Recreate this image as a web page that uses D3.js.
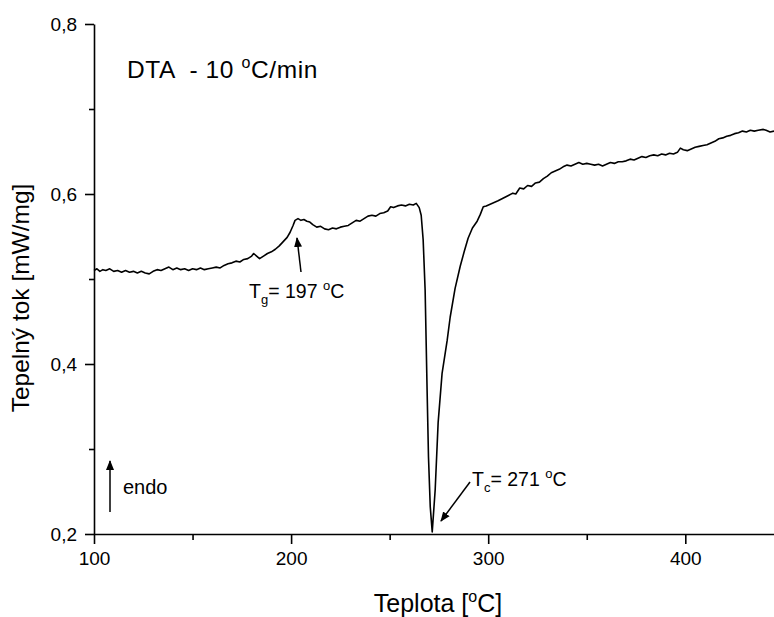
<!DOCTYPE html>
<html>
<head>
<meta charset="utf-8">
<script src="https://cdn.jsdelivr.net/npm/d3@7/dist/d3.min.js"></script>
<style>
  body { margin: 0; background: #fff; }
  text { font-family: "Liberation Sans", Arial, sans-serif; fill: #000; }
</style>
</head>
<body>
<svg id="chart" width="774" height="617"></svg>
<script>
// DTA curve (temperature in °C, heat flow in mW/mg)
const temp = [100, 101.5, 103, 104.5, 106, 108, 110, 112, 114, 116, 118, 120, 122, 124, 126, 128, 130, 132, 134, 136,
  138, 140, 142, 144, 146, 148, 150, 152, 154, 156, 158, 160, 162, 164, 166, 168, 170, 172, 174, 176,
  178, 180, 181, 182.5, 184, 186, 188, 190, 192, 194, 196, 198, 199.5, 201, 202, 203.5, 205, 206.5, 208, 209.5,
  211, 213, 215, 217, 219, 221, 223, 225, 227, 229, 231, 233, 235, 237, 239, 241, 243, 245, 247, 249,
  250.5, 252, 254, 256, 258, 260, 262, 263.5, 265, 266, 267, 268, 269, 269.7, 270.6, 271.6, 273.1, 274.6, 276.6, 279.2,
  280.7, 283.2, 285.8, 287.8, 289.8, 292, 294.4, 296, 297.5, 299, 301, 303, 305, 307.5, 310, 312.5, 314, 316, 318, 320,
  322, 324, 326, 328, 330, 332, 334, 336, 338, 340, 342, 344, 346, 348, 350, 352, 354, 356, 358, 360,
  362, 364, 366, 368, 370, 372, 374, 376, 378, 380, 382, 384, 386, 388, 390, 392, 394, 396, 397.5, 399,
  401, 403, 405, 407, 409, 411, 413, 415, 417, 419, 421, 423, 425, 427, 429, 431, 433, 435, 437, 439.6,
  441, 443, 445];
const flow = [.510, .512, .509, .511, .510, .512, .509, .510, .508, .510, .508, .509, .507, .509, .507, .506, .509, .511, .510, .512,
  .514, .511, .513, .511, .512, .510, .512, .511, .513, .511, .512, .513, .514, .513, .516, .518, .519, .521, .520, .523,
  .524, .527, .530, .527, .524, .527, .530, .532, .535, .539, .544, .549, .555, .563, .569, .571, .569, .570, .568, .567,
  .564, .561, .562, .559, .558, .560, .559, .561, .562, .563, .566, .569, .568, .571, .574, .575, .574, .577, .578, .580,
  .585, .584, .586, .587, .586, .588, .587, .589, .584, .575, .546, .487, .369, .291, .232, .2025, .252, .331, .389, .428,
  .455, .489, .515, .532, .548, .560, .568, .576, .585, .586, .588, .590, .592, .595, .598, .601, .600, .607, .606, .610,
  .609, .613, .614, .618, .621, .625, .627, .629, .632, .634, .633, .635, .637, .635, .636, .635, .634, .635, .633, .635,
  .637, .636, .638, .638, .639, .641, .640, .642, .644, .643, .645, .646, .645, .647, .646, .648, .647, .649, .654, .652,
  .651, .653, .655, .656, .657, .658, .660, .662, .665, .666, .668, .669, .671, .672, .674, .673, .675, .674, .675, .676,
  .675, .673, .674];

const xMajor = [100, 200, 300, 400];
const xMinor = [150, 250, 350];
const yMajor = [0.2, 0.4, 0.6, 0.8];
const yMinor = [0.3, 0.5, 0.7];

const svg = d3.select('#chart');
const mLeft = 94, mRight = 774, mTop = 24, mBottom = 534;

const x = d3.scaleLinear().domain([100, 445]).range([mLeft, mRight]);
const y = d3.scaleLinear().domain([0.2, 0.8]).range([mBottom, mTop]);

const comma = d => d3.format('.1f')(d).replace('.', ',');

// minor ticks first, then major axes on top
svg.append('g')
  .attr('transform', `translate(0,${mBottom})`)
  .call(d3.axisBottom(x).tickValues(xMinor).tickSize(6).tickFormat('').tickSizeOuter(0))
  .call(g => g.select('.domain').remove());
svg.append('g')
  .attr('transform', `translate(${mLeft},0)`)
  .call(d3.axisLeft(y).tickValues(yMinor).tickSize(5).tickFormat('').tickSizeOuter(0))
  .call(g => g.select('.domain').remove());

const xAxis = svg.append('g')
  .attr('transform', `translate(0,${mBottom})`)
  .call(d3.axisBottom(x).tickValues(xMajor).tickSize(10).tickPadding(8).tickSizeOuter(0));
const yAxis = svg.append('g')
  .attr('transform', `translate(${mLeft},0)`)
  .call(d3.axisLeft(y).tickValues(yMajor).tickSize(9).tickPadding(8).tickFormat(comma).tickSizeOuter(0));

svg.selectAll('.tick line, .domain').attr('stroke', '#000').attr('stroke-width', 1.6);
[xAxis, yAxis].forEach(a => a.selectAll('text')
  .style('font-family', '"Liberation Sans", Arial, sans-serif')
  .style('font-size', '19px').attr('fill', '#000'));

// curve
const line = d3.line().x((d, i) => x(temp[i])).y(d => y(d));
svg.append('path')
  .datum(flow)
  .attr('d', line)
  .attr('fill', 'none')
  .attr('stroke', '#000')
  .attr('stroke-width', 1.6)
  .attr('stroke-linejoin', 'round');

// axis titles
const xt = svg.append('text')
  .attr('x', 438).attr('y', 612)
  .attr('text-anchor', 'middle')
  .style('font-size', '25px');
xt.append('tspan').text('Teplota [');
xt.append('tspan').text('o').style('font-size', '16px').attr('dy', -10);
xt.append('tspan').text('C]').attr('dy', 10);

svg.append('text')
  .attr('transform', 'translate(29,298) rotate(-90)')
  .attr('text-anchor', 'middle')
  .style('font-size', '24.5px')
  .text('Tepelný tok [mW/mg]');

// title inside plot
const tt = svg.append('text')
  .attr('x', 127).attr('y', 78)
  .style('font-size', '24.5px')
  .style('letter-spacing', '0.6px')
  .attr('xml:space', 'preserve');
tt.append('tspan').text('DTA  - 10 ');
tt.append('tspan').text('o').style('font-size', '16px').attr('dy', -10);
tt.append('tspan').text('C/min').attr('dy', 10);

// arrow marker
svg.append('defs').append('marker')
  .attr('id', 'head')
  .attr('viewBox', '0 0 10 10')
  .attr('refX', 9).attr('refY', 5)
  .attr('markerWidth', 10).attr('markerHeight', 10)
  .attr('markerUnits', 'userSpaceOnUse')
  .attr('orient', 'auto')
  .append('path').attr('d', 'M0,1 L10,5 L0,9 z').attr('fill', '#000');

function arrow(x1, y1, x2, y2) {
  svg.append('line')
    .attr('x1', x1).attr('y1', y1).attr('x2', x2).attr('y2', y2)
    .attr('stroke', '#000').attr('stroke-width', 1.5)
    .attr('marker-end', 'url(#head)');
}

function label(px, py, sub, value) {
  const t = svg.append('text').attr('x', px).attr('y', py).style('font-size', '19.5px');
  t.append('tspan').text('T');
  t.append('tspan').text(sub).style('font-size', '13px').attr('dy', 6);
  t.append('tspan').text('= ' + value + ' ').attr('dy', -6);
  t.append('tspan').text('o').style('font-size', '13px').attr('dy', -8);
  t.append('tspan').text('C').attr('dy', 8);
}

// Tg annotation
arrow(301, 272, 297, 238);
label(249, 298, 'g', 197);

// Tc annotation
arrow(470, 482, 441, 521);
label(472, 486, 'c', 271);

// endo
arrow(110, 512, 110, 461);
svg.append('text').attr('x', 123).attr('y', 494).style('font-size', '20px').text('endo');
</script>
</body>
</html>
